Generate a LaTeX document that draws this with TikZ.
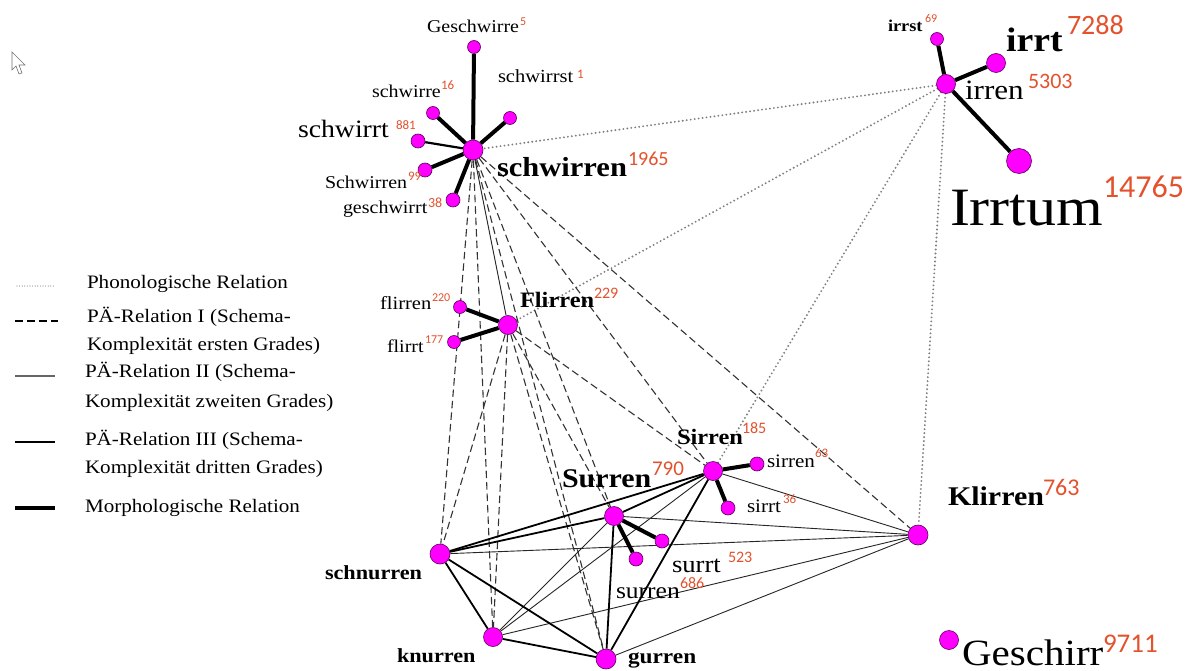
\documentclass[tikz,border=0pt]{standalone}
\usepackage{fontspec}
\setmainfont{Liberation Serif}[FakeStretch=1.11]
\newfontfamily\numfont{Carlito}
\definecolor{numred}{HTML}{E4512D}
\definecolor{nodemag}{HTML}{FF00FF}
\definecolor{nodeedge}{HTML}{5A005A}
\pgfdeclarelayer{paper}
\pgfdeclarelayer{bg}
\pgfsetlayers{paper,bg,main}
\newcommand\fs[1]{\fontsize{#1}{#1}\selectfont}
\tikzset{
  vtx/.style={circle, fill=nodemag, draw=nodeedge, line width=0.6pt, inner sep=0pt, minimum size=#1},
  morph/.style={line width=4pt, black},
  morphthin/.style={line width=2.2pt, black},
  pathree/.style={line width=1.8pt, black},
  patwo/.style={line width=0.9pt, black!85},
  paone/.style={line width=1.1pt, black!80, dash pattern=on 7.5pt off 4pt},
  phon/.style={line width=2.1pt, black!50, line cap=round, dash pattern=on 0pt off 4pt},
  word/.style={anchor=base west, inner sep=0pt, outer sep=0pt},
  num/.style={anchor=base west, inner sep=0pt, outer sep=0pt, text=numred, font=\numfont},
}
\begin{document}
\begin{tikzpicture}[x=1pt, y=-1pt]
\begin{pgfonlayer}{paper}
\fill[white] (0,0) rectangle (1190,671);
\end{pgfonlayer}
\useasboundingbox (0,0) rectangle (1190,671);

% cursor artefact
\draw[black!55, line width=0.6pt, fill=white] (12,52) -- (12,70) -- (16,66) -- (19,74) -- (22,73) -- (19,65) -- (25,65) -- cycle;

% ---------- nodes ----------
\node[vtx=20] (schwirren) at (473,150) {};
\node[vtx=13] (lGeschwirre) at (474,47) {};
\node[vtx=13] (lschwirre) at (433,113) {};
\node[vtx=13] (lschwirrst) at (510,118) {};
\node[vtx=14] (lschwirrt) at (418,141) {};
\node[vtx=14] (lSchwirren) at (425,170) {};
\node[vtx=14] (lgeschwirrt) at (453,200) {};

\node[vtx=19] (irren) at (946,84) {};
\node[vtx=13] (lirrst) at (937,39) {};
\node[vtx=19] (lirrt) at (996,63) {};
\node[vtx=25] (lIrrtum) at (1019,161) {};

\node[vtx=19] (Flirren) at (508,325) {};
\node[vtx=13] (lflirren) at (460,307) {};
\node[vtx=13] (lflirrt) at (454,342) {};

\node[vtx=19] (Sirren) at (713,471) {};
\node[vtx=14] (lsirren) at (757,464) {};
\node[vtx=14] (lsirrt) at (728,508) {};

\node[vtx=19] (Surren) at (614,516) {};
\node[vtx=14] (lsurrt) at (662,541) {};
\node[vtx=14] (lsurren) at (636,559) {};

\node[vtx=20] (Klirren) at (918,535) {};
\node[vtx=19] (Geschirr) at (949,640) {};
\node[vtx=20] (schnurren) at (440,554) {};
\node[vtx=19] (knurren) at (493,637) {};
\node[vtx=20] (gurren) at (606,659) {};

% ---------- edges ----------
\begin{pgfonlayer}{bg}
% phonological
\foreach \t in {schwirren, Flirren, Sirren, Klirren}
  \draw[phon] (irren) -- (\t);
% PA I
\foreach \t in {schnurren, knurren, gurren, Surren, Sirren, Klirren}
  \draw[paone] (schwirren) -- (\t);
\foreach \t in {schnurren, knurren, gurren, Surren, Sirren}
  \draw[paone] (Flirren) -- (\t);
% PA II
\foreach \t in {schnurren, knurren, gurren, Surren, Sirren}
  \draw[patwo] (Klirren) -- (\t);
\draw[patwo] (knurren) -- (Surren);
\draw[patwo] (knurren) -- (Sirren);
\draw[patwo] (schwirren) -- (Flirren);
% PA III
\draw[pathree] (schnurren) -- (Sirren);
\draw[pathree] (schnurren) -- (Surren);
\draw[pathree] (schnurren) -- (knurren);
\draw[pathree] (schnurren) -- (gurren);
\draw[pathree] (knurren) -- (gurren);
\draw[pathree] (gurren) -- (Surren);
\draw[pathree] (gurren) -- (Sirren);
\draw[pathree] (Surren) -- (Sirren);
% morphological
\foreach \t in {lGeschwirre, lschwirre, lschwirrst, lSchwirren, lgeschwirrt}
  \draw[morph] (schwirren) -- (\t);
\draw[morphthin] (schwirren) -- (lschwirrt);
\foreach \t in {lirrst, lirrt, lIrrtum}
  \draw[morph] (irren) -- (\t);
\draw[morph] (Flirren) -- (lflirren);
\draw[morph] (Flirren) -- (lflirrt);
\draw[morph] (Sirren) -- (lsirren);
\draw[morph] (Sirren) -- (lsirrt);
\draw[morph] (Surren) -- (lsurrt);
\draw[morph] (Surren) -- (lsurren);
\end{pgfonlayer}

% ---------- labels ----------
\node[word] (tGeschwirre) at (427,33) {\fs{18}Geschwirre};
\node[num] (nGeschwirre) at (520,26) {\fs{12}5};
\node[word] (tschwirrst) at (498,83) {\fs{18.5}schwirrst};
\node[num] (nschwirrst) at (577,79) {\fs{13}1};
\node[word] (tschwirre) at (372,98) {\fs{18}schwirre};
\node[num] (nschwirre) at (441,90) {\fs{13}16};
\node[word] (tschwirrt) at (298,138) {\fs{25}schwirrt};
\node[num] (nschwirrt) at (396,130) {\fs{13}881};
\node[word] (tSchwirren) at (325,188) {\fs{18}Schwirren};
\node[num] (nSchwirren) at (408,180) {\fs{13}99};
\node[word] (tgeschwirrt) at (343,213) {\fs{18}geschwirrt};
\node[num] (ngeschwirrt) at (428,207) {\fs{14}38};
\node[word] (tschwirren) at (497,177) {\fs{27.5}\bfseries schwirren};
\node[num] (nschwirren) at (628,165) {\fs{20}1965};

\node[word] (tirrst) at (888,32) {\fs{16.5}\bfseries irrst};
\node[num] (nirrst) at (925,23) {\fs{12}69};
\node[word] (tirrt) at (1006,52) {\fs{34}\bfseries irrt};
\node[num] (nirrt) at (1067,35) {\fs{28}7288};
\node[word] (tirren) at (965,100) {\fs{28}irren};
\node[num] (nirren) at (1028,89) {\fs{22}5303};
\node[word] (tIrrtum) at (950,225) {\fs{54}Irrtum};
\node[num] (nIrrtum) at (1103,197) {\fs{32}14765};

\node[word] (tFlirren) at (520,307) {\fs{22}\bfseries Flirren};
\node[num] (nFlirren) at (594,298) {\fs{16}229};
\node[word] (tflirren) at (380,309) {\fs{18.5}flirren};
\node[num] (nflirren) at (432,301) {\fs{12}220};
\node[word] (tflirrt) at (387,352) {\fs{18}flirrt};
\node[num] (nflirrt) at (425,343) {\fs{12}177};

\node[word] (tSirren) at (677,444) {\fs{22}\bfseries Sirren};
\node[num] (nSirren) at (742,433) {\fs{16}185};
\node[word] (tsirren) at (767,467) {\fs{19}sirren};
\node[num] (nsirren) at (815,457) {\fs{13}63};
\node[word] (tsirrt) at (747,512) {\fs{19}sirrt};
\node[num] (nsirrt) at (783,503) {\fs{13}36};
\node[word] (tSurren) at (562,487) {\fs{27}\bfseries Surren};
\node[num] (nSurren) at (652,475) {\fs{21}790};
\node[word] (tsurrt) at (672,572) {\fs{24}surrt};
\node[num] (nsurrt) at (728,562) {\fs{16}523};
\node[word] (tsurren) at (616,598) {\fs{23}surren};
\node[num] (nsurren) at (680,588) {\fs{16}686};

\node[word] (tschnurren) at (325,579) {\fs{20}\bfseries schnurren};
\node[word] (tknurren) at (397,662) {\fs{20}\bfseries knurren};
\node[word] (tgurren) at (628,663) {\fs{21}\bfseries gurren};
\node[word] (tKlirren) at (948,505) {\fs{27}\bfseries Klirren};
\node[num] (nKlirren) at (1043,495) {\fs{24}763};
\node[word] (tGeschirr) at (962,665) {\fs{37}Geschirr};
\node[num] (nGeschirr) at (1103,652) {\fs{27}9711};

% ---------- legend ----------
\draw[black!45, line width=1.2pt, line cap=round, dash pattern=on 0pt off 2.6pt] (17,286) -- (55,286);
\draw[black, line width=1.2pt, dash pattern=on 8pt off 4pt] (15,321) -- (58,321);
\draw[black!60, line width=1.3pt] (15,376) -- (55,376);
\draw[black, line width=1.8pt] (15,442) -- (55,442);
\draw[black, line width=4pt] (15,508) -- (55,508);
\node[word] (g1) at (87,288) {\fs{19}Phonologische Relation};
\node[word] (g2a) at (87,322) {\fs{19}PÄ-Relation I (Schema-};
\node[word] (g2b) at (87,350) {\fs{19}Komplexität ersten Grades)};
\node[word] (g3a) at (85,377) {\fs{19}PÄ-Relation II (Schema-};
\node[word] (g3b) at (85,407) {\fs{19}Komplexität zweiten Grades)};
\node[word] (g4a) at (85,445) {\fs{19}PÄ-Relation III (Schema-};
\node[word] (g4b) at (85,473) {\fs{19}Komplexität dritten Grades)};
\node[word] (g5) at (85,512) {\fs{19}Morphologische Relation};
\end{tikzpicture}
\end{document}
